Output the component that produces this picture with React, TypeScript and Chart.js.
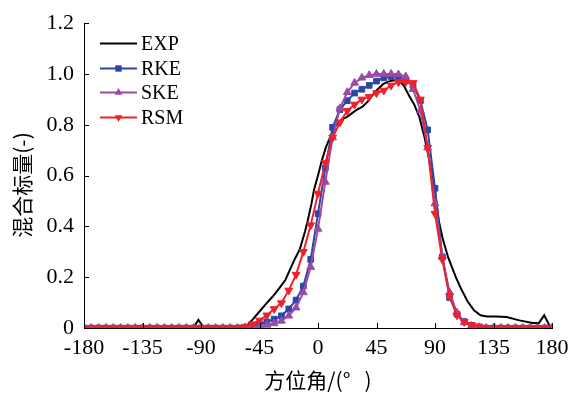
import React, { useEffect, useRef } from 'react';
import { Chart, registerables } from 'chart.js';

Chart.register(...registerables);

// Azimuth angles (degrees) of the simulation samples
const angles = [
  -180, -174.375, -168.75, -163.125, -157.5, -151.875, -146.25, -140.625,
  -135, -129.375, -123.75, -118.125, -112.5, -106.875, -101.25, -95.625,
  -90, -84.375, -78.75, -73.125, -67.5, -61.875, -56.25, -50.625,
  -45, -39.375, -33.75, -28.125, -22.5, -16.875, -11.25, -5.625,
  0, 5.625, 11.25, 16.875, 22.5, 28.125, 33.75, 39.375,
  45, 50.625, 56.25, 61.875, 67.5, 73.125, 78.75, 84.375,
  90, 95.625, 101.25, 106.875, 112.5, 118.125, 123.75, 129.375,
  135, 140.625, 146.25, 151.875, 157.5, 163.125, 168.75, 174.375, 180,
];

const rke = [
  0, 0, 0, 0, 0, 0, 0, 0, 0, 0, 0, 0, 0, 0, 0, 0, 0, 0, 0, 0, 0, 0,
  0.003, 0.008, 0.015, 0.024, 0.035, 0.048, 0.075, 0.11, 0.165, 0.27,
  0.45, 0.63, 0.79, 0.86, 0.895, 0.925, 0.94, 0.955, 0.972, 0.985,
  0.99, 0.99, 0.975, 0.955, 0.895, 0.78, 0.55, 0.28, 0.12, 0.055,
  0.025, 0.01, 0.004,
  0, 0, 0, 0, 0, 0, 0, 0, 0, 0,
];

const ske = [
  0, 0, 0, 0, 0, 0, 0, 0, 0, 0, 0, 0, 0, 0, 0, 0, 0, 0, 0, 0, 0, 0,
  0.002, 0.005, 0.008, 0.012, 0.018, 0.028, 0.048, 0.08, 0.14, 0.24,
  0.39, 0.575, 0.75, 0.865, 0.928, 0.965, 0.985, 0.995, 1.0, 1.0,
  1.0, 0.998, 0.99, 0.94, 0.856, 0.71, 0.49, 0.28, 0.14, 0.06,
  0.022, 0.008, 0.003,
  0, 0, 0, 0, 0, 0, 0, 0, 0, 0,
];

const rsm = [
  0, 0, 0, 0, 0, 0, 0, 0, 0, 0, 0, 0, 0, 0, 0, 0, 0, 0, 0, 0, 0, 0,
  0.004, 0.015, 0.03, 0.05, 0.075, 0.098, 0.148, 0.21, 0.3, 0.405,
  0.53, 0.65, 0.75, 0.81, 0.855, 0.88, 0.9, 0.91, 0.925, 0.935,
  0.955, 0.968, 0.968, 0.965, 0.9, 0.71, 0.45, 0.27, 0.125, 0.05,
  0.024, 0.012, 0.006,
  0, 0, 0, 0, 0, 0, 0, 0, 0, 0,
];

// Experimental curve
const expAngles = [
  -180, -135, -96, -92, -88, -60, -55, -50, -45, -40, -35, -30, -25, -22,
  -18, -14, -10, -8, -5, -3, 0, 3, 6, 10, 14, 18, 22, 26, 30, 34, 38, 41,
  44, 47, 50, 54, 58, 62, 66, 70, 74, 78, 82, 86, 90, 93, 96, 100, 103,
  106, 110, 115, 120, 125, 130, 137, 145, 155, 165, 170, 174, 178, 180,
];
const expValues = [
  0, 0, 0, 0.032, 0.002, 0.002, 0.008, 0.035, 0.065, 0.095, 0.123, 0.155,
  0.19, 0.225, 0.27, 0.31, 0.38, 0.42, 0.49, 0.545, 0.6, 0.66, 0.71, 0.76,
  0.8, 0.82, 0.83, 0.845, 0.86, 0.87, 0.89, 0.91, 0.93, 0.945, 0.96, 0.97,
  0.975, 0.974, 0.955, 0.915, 0.88, 0.83, 0.75, 0.65, 0.54, 0.42, 0.35,
  0.28, 0.24, 0.2, 0.155, 0.105, 0.07, 0.05, 0.045, 0.045, 0.043, 0.03,
  0.02, 0.02, 0.05, 0.01, 0,
];

const seriesNames = ['EXP', 'RKE', 'SKE', 'RSM'];
const seriesColors = ['#000000', '#2E45A6', '#9B4AA6', '#EE2229'];
const xTitle = '方位角/(°   )';
const yTitle = '混合标量(-)    ';

const SERIF = '"Liberation Serif", "Times New Roman", serif';
const CJK = '"Noto Sans CJK SC", sans-serif';

function drawMarker(ctx: CanvasRenderingContext2D, kind: string, x: number, y: number, r: number, color: string) {
  ctx.save();
  ctx.fillStyle = color;
  ctx.beginPath();
  if (kind === 'rect') {
    const s = r * Math.SQRT1_2;
    ctx.rect(x - s, y - s, 2 * s, 2 * s);
  } else if (kind === 'up') {
    ctx.moveTo(x, y - r);
    ctx.lineTo(x + r * 0.866, y + r * 0.5);
    ctx.lineTo(x - r * 0.866, y + r * 0.5);
    ctx.closePath();
  } else if (kind === 'down') {
    ctx.moveTo(x, y + r);
    ctx.lineTo(x + r * 0.866, y - r * 0.5);
    ctx.lineTo(x - r * 0.866, y - r * 0.5);
    ctx.closePath();
  }
  ctx.fill();
  ctx.restore();
}

const innerTicks = {
  id: 'innerTicks',
  afterDraw(chart: any) {
    const { ctx, chartArea, scales } = chart;
    ctx.save();
    ctx.strokeStyle = '#000';
    ctx.lineWidth = 1;
    ctx.beginPath();
    scales.x.ticks.forEach((t: any) => {
      const px = Math.round(scales.x.getPixelForValue(t.value)) + 0.5;
      ctx.moveTo(px, chartArea.bottom);
      ctx.lineTo(px, chartArea.bottom - 5);
    });
    scales.y.ticks.forEach((t: any) => {
      const py = Math.round(scales.y.getPixelForValue(t.value)) + 0.5;
      ctx.moveTo(chartArea.left, py);
      ctx.lineTo(chartArea.left + 5, py);
    });
    ctx.stroke();
    ctx.restore();
  },
};

const customLegend = {
  id: 'customLegend',
  afterDraw(chart: any) {
    const { ctx } = chart;
    const kinds = ['none', 'rect', 'up', 'down'];
    const x0 = 100;
    const x1 = 137;
    const y0 = 43;
    const dy = 24.7;
    ctx.save();
    ctx.font = `20px ${SERIF}`;
    ctx.textBaseline = 'middle';
    ctx.textAlign = 'left';
    seriesNames.forEach((name, i) => {
      const y = Math.round(y0 + i * dy) + 0.5;
      ctx.strokeStyle = seriesColors[i];
      ctx.lineWidth = 2;
      ctx.beginPath();
      ctx.moveTo(x0, y);
      ctx.lineTo(x1, y);
      ctx.stroke();
      if (kinds[i] !== 'none') drawMarker(ctx, kinds[i], (x0 + x1) / 2, y, 4.5, seriesColors[i]);
      ctx.fillStyle = '#000';
      ctx.fillText(name, 141, y + 1);
    });
    ctx.restore();
  },
};

export default function App() {
  const ref = useRef<HTMLCanvasElement>(null);
  useEffect(() => {
    document.body.style.margin = '0';
    const canvas = ref.current as HTMLCanvasElement;
    const pts = (ys: number[]) => angles.map((a, i) => ({ x: a, y: ys[i] }));
    const chart = new Chart(canvas, {
      type: 'line',
      data: {
        datasets: [
          {
            label: seriesNames[0],
            data: expAngles.map((a, i) => ({ x: a, y: expValues[i] })),
            borderColor: seriesColors[0],
            backgroundColor: seriesColors[0],
            borderWidth: 2,
            pointRadius: 0,
            order: 3,
          },
          {
            label: seriesNames[1],
            data: pts(rke),
            borderColor: seriesColors[1],
            backgroundColor: seriesColors[1],
            borderWidth: 2,
            pointStyle: 'rect',
            pointRadius: 4,
            pointBorderWidth: 1,
            order: 2,
          },
          {
            label: seriesNames[2],
            data: pts(ske),
            borderColor: seriesColors[2],
            backgroundColor: seriesColors[2],
            borderWidth: 2,
            pointStyle: 'triangle',
            pointRadius: 4.5,
            pointBorderWidth: 1,
            order: 1,
          },
          {
            label: seriesNames[3],
            data: pts(rsm),
            borderColor: seriesColors[3],
            backgroundColor: seriesColors[3],
            borderWidth: 2,
            pointStyle: 'triangle',
            pointRotation: 180,
            pointRadius: 4.5,
            pointBorderWidth: 1,
            order: 0,
          },
        ] as any,
      },
      options: {
        animation: false,
        responsive: false,
        events: [],
        layout: { padding: { top: 22, right: 31, left: 0, bottom: 0 } },
        plugins: { legend: { display: false }, tooltip: { enabled: false } },
        scales: {
          x: {
            type: 'linear',
            min: -180,
            max: 180,
            ticks: {
              stepSize: 45,
              color: '#000',
              font: { family: SERIF, size: 22 },
              padding: 7,
              maxRotation: 0,
            },
            grid: { drawOnChartArea: false, drawTicks: false },
            border: { color: '#000', width: 1 },
            title: {
              display: true,
              text: xTitle,
              color: '#000',
              font: { family: CJK, size: 21 },
              padding: { top: 4, bottom: 0 },
            },
            afterFit(s: any) {
              s.height = 65;
            },
          },
          y: {
            type: 'linear',
            min: 0,
            max: 1.2,
            ticks: {
              stepSize: 0.2,
              color: '#000',
              font: { family: SERIF, size: 22 },
              padding: 10,
              callback: (v: any) => (Math.abs(v) < 1e-9 ? '0' : Number(v).toFixed(1)),
            },
            grid: { drawOnChartArea: false, drawTicks: false },
            border: { color: '#000', width: 1 },
            title: {
              display: true,
              text: yTitle,
              color: '#000',
              font: { family: CJK, size: 21 },
              padding: { top: 9, bottom: 0 },
            },
            afterFit(s: any) {
              s.width = 84;
            },
          },
        },
      } as any,
      plugins: [innerTicks, customLegend],
    });
    return () => chart.destroy();
  }, []);
  return (
    <div style={{ width: 583, height: 393 }}>
      <canvas ref={ref} width={583} height={393} style={{ display: 'block' }} />
    </div>
  );
}
